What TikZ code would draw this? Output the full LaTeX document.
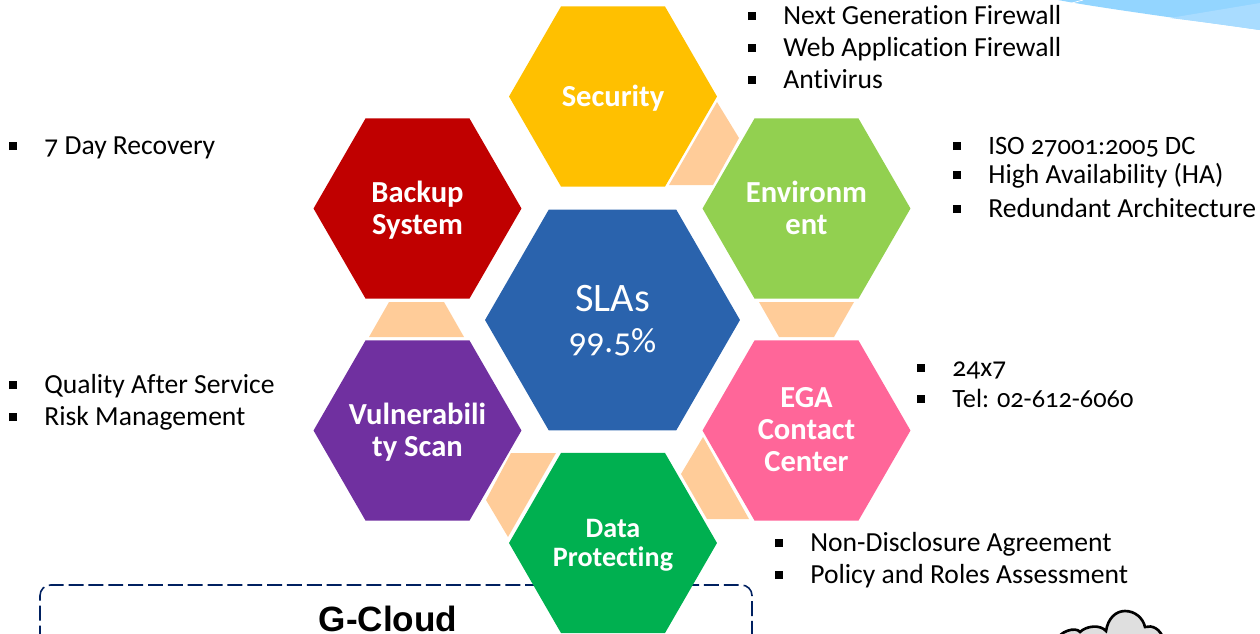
\documentclass[tikz,border=0pt]{standalone}
\usepackage{fontspec}
\setmainfont[Numbers=OldStyle,Ligatures=NoCommon]{Carlito}
\newfontfamily\cloudfont{Liberation Sans}
\usetikzlibrary{shapes.geometric}
\definecolor{secgold}{HTML}{FFC000}
\definecolor{backred}{HTML}{C00000}
\definecolor{envgreen}{HTML}{92D050}
\definecolor{vulnpurple}{HTML}{7030A0}
\definecolor{egapink}{HTML}{FF6699}
\definecolor{datagreen}{HTML}{00B050}
\definecolor{slablue}{HTML}{2A63AD}
\definecolor{linkpeach}{HTML}{FFCC99}
\definecolor{boxnavy}{HTML}{002060}
\definecolor{skyblue}{HTML}{93D5FF}
\definecolor{skylight}{HTML}{A9DCFF}
\newcommand{\sqmark}{\llap{\rule[2.2pt]{4.6pt}{4.6pt}\hspace{15.4pt}}}
\tikzset{
    hexbox/.style={regular polygon, regular polygon sides=6, minimum size=4.16cm, inner sep=0pt, outer sep=0pt},
    hexlabel/.style={text=white, align=center, inner sep=0pt, font=\fontsize{17.4}{18.2}\selectfont\bfseries},
    itemtext/.style={anchor=base west, inner sep=0pt, font=\fontsize{15.7}{17}\selectfont}
}

\begin{document}
\begin{tikzpicture}[x=0.02cm, y=-0.02cm]
    \path[use as bounding box, clip] (0,0) rectangle (1260,633);

    % Sky corner
    \fill[skyblue] (1058,0) .. controls (1100,8) and (1190,20) .. (1260,30) -- (1260,0) -- cycle;
    \fill[skylight] (1170,18) -- (1260,3) -- (1260,30) .. controls (1225,25) and (1195,21) .. (1170,18) -- cycle;
    \draw[white] (1072,3) -- (1083,0);

    % G-Cloud box
    \draw[boxnavy, line width=0.9pt, dash pattern=on 8.5pt off 2.8pt, rounded corners=6pt] (40,700) -- (40,585) -- (752,585) -- (752,700);
    \node[font=\cloudfont\fontsize{20}{22}\selectfont\bfseries, anchor=base, inner sep=0pt] (gcloud) at (388,631) {G-Cloud};

    % Cloud
    \draw[fill=gray!25, line width=1.5pt] (1058,640) .. controls (1058,632) and (1076,626) .. (1080,632) .. controls (1086,626) and (1100,624) .. (1106,631) .. controls (1108,618) and (1116,611) .. (1125,611) .. controls (1135,611) and (1143,618) .. (1145,627) .. controls (1152,625) and (1160,628) .. (1164,640) -- cycle;

    % Links
    \fill[linkpeach] (717,102) -- (739,138) -- (713,185) -- (669,185) -- cycle;
    \fill[linkpeach] (759,302) -- (854,302) -- (834,337) -- (779,337) -- cycle;
    \fill[linkpeach] (389,302) -- (444,302) -- (464,337) -- (369,337) -- cycle;
    \fill[linkpeach] (511,453) -- (556,453) -- (508,537) -- (486,500) -- cycle;
    \fill[linkpeach] (703,437) -- (749,519) -- (707,519) -- (681,474) -- cycle;

    % Hexagons
    \node[hexbox, fill=secgold] (security) at (613,96.5) {};
    \node[hexbox, fill=backred] (backup) at (417.5,208.5) {};
    \node[hexbox, fill=envgreen] (environment) at (806.5,208.5) {};
    \node[hexbox, fill=slablue, minimum size=5.1cm] (slas) at (612.5,320) {};
    \node[hexbox, fill=vulnpurple] (vulnerability) at (417.5,430.5) {};
    \node[hexbox, fill=egapink] (ega) at (806.5,430.5) {};
    \node[hexbox, fill=datagreen] (data) at (613,543) {};

    % Hexagon labels
    \node[hexlabel] (securitytext) at (613,98) {Security};
    \node[hexlabel] (backuptext) at (417.5,210) {Backup\\System};
    \node[hexlabel] (environmenttext) at (806.5,207.5) {Environm\\ent};
    \node[hexlabel, font=\fontsize{20}{24.5}\selectfont] (slastext) at (612.5,321) {{\fontsize{23}{24.5}\selectfont SLAs}\\[-1pt]99.5\%};
    \node[hexlabel] (vulnerabilitytext) at (417.5,432) {Vulnerabili\\ty Scan};
    \node[hexlabel] (egatext) at (806.5,430) {EGA\\Contact\\Center};
    \node[hexlabel, font=\fontsize{16}{16.5}\selectfont\bfseries] (datatext) at (613,545) {Data\\Protecting};

    % Lists
    \node[itemtext] (firewall) at (783,24) {\sqmark Next Generation Firewall};
    \node[itemtext] (webfirewall) at (783,56) {\sqmark Web Application Firewall};
    \node[itemtext] (antivirus) at (783,88) {\sqmark Antivirus};

    \node[itemtext] (recovery) at (44,154) {\sqmark 7 Day Recovery};

    \node[itemtext, font=\fontsize{15.1}{17}\selectfont] (iso) at (988,154) {\sqmark ISO 27001:2005 DC};
    \node[itemtext] (high) at (988,183) {\sqmark High Availability (HA)};
    \node[itemtext] (redundant) at (988,217) {\sqmark Redundant Architecture};

    \node[itemtext] (quality) at (44,393) {\sqmark Quality After Service};
    \node[itemtext] (risk) at (44,425) {\sqmark Risk Management};

    \node[itemtext] (hours) at (952,376) {\sqmark 24x7};
    \node[itemtext, font=\fontsize{15}{17}\selectfont] (tel) at (952,407) {\sqmark Tel: 02-612-6060};

    \node[itemtext] (disclosure) at (810,551) {\sqmark Non-Disclosure Agreement};
    \node[itemtext] (policy) at (810,583) {\sqmark Policy and Roles Assessment};
\end{tikzpicture}
\end{document}
